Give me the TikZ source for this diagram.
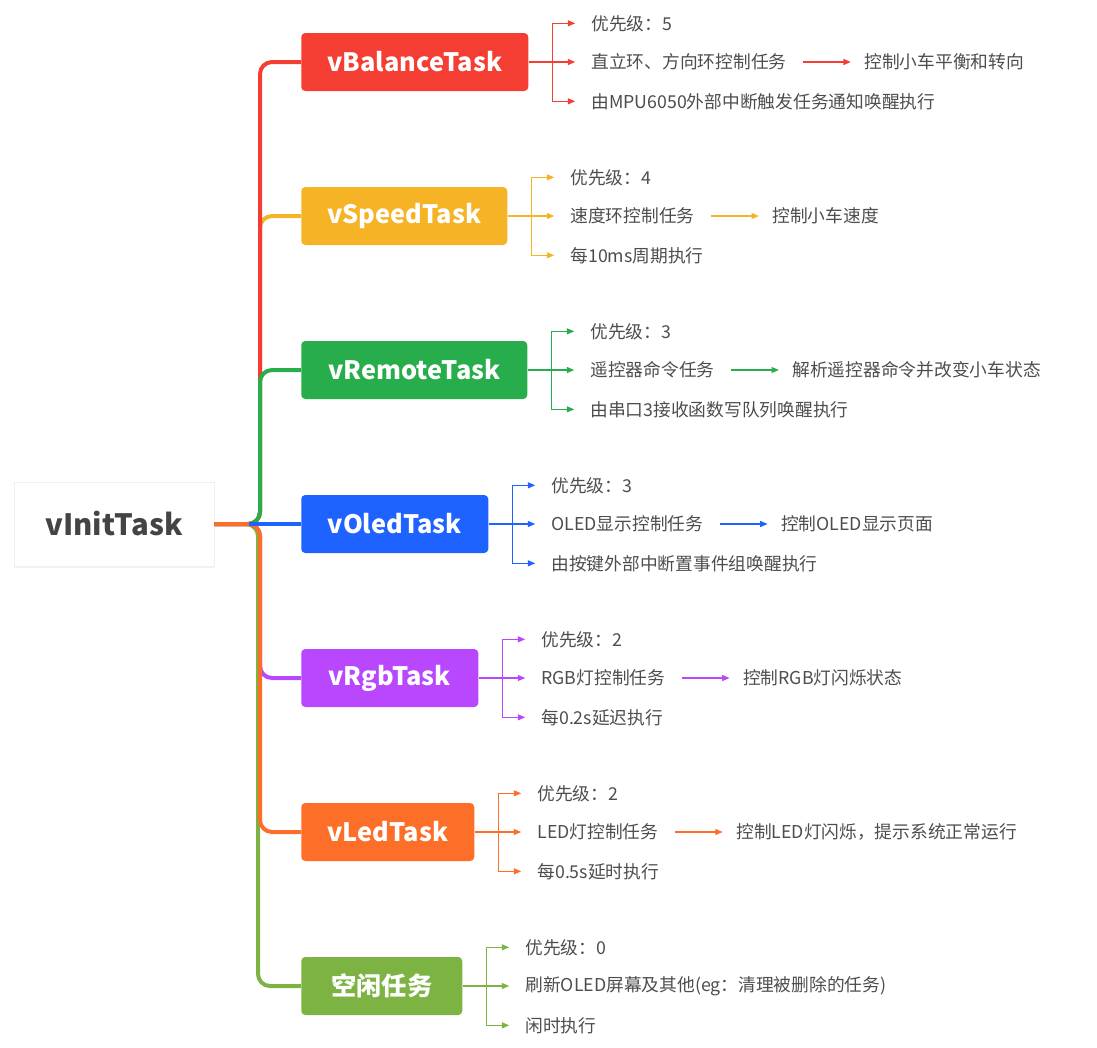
\documentclass[tikz,border=0pt]{standalone}
\usepackage{fontspec}
\setmainfont{Noto Sans CJK SC}
\usetikzlibrary{arrows.meta,positioning,shadows}
\definecolor{cRed}{HTML}{F53E33}
\definecolor{cYel}{HTML}{F6B326}
\definecolor{cGrn}{HTML}{27AD4B}
\definecolor{cBlu}{HTML}{1E63FF}
\definecolor{cPur}{HTML}{B847FD}
\definecolor{cOrg}{HTML}{FD6F28}
\definecolor{cLime}{HTML}{7CB342}
\definecolor{txt}{HTML}{4D4D4D}
\definecolor{roottxt}{HTML}{444444}
\newcommand\mytask[8]{%
  \node[taskbox, fill=#2, minimum width=#8] (#1) at (301,#3) {#4};
  \coordinate (#1s) at ([xshift=18pt]#1.east);
  \node[item] (#1a) at ([xshift=35pt,yshift=29pt]#1.east) {#5};
  \node[item] (#1b) at ([xshift=35pt]#1.east) {#6};
  \node[item] (#1c) at ([xshift=35pt,yshift=-29.5pt]#1.east) {#7};
  \draw[sub,#2] (#1.east) -- (#1s);
  \draw[sub,arr,#2] (#1s) |- (#1a.west);
  \draw[sub,arr,#2] (#1s) -- (#1b.west);
  \draw[sub,arr,#2] (#1s) |- (#1c.west);
}
\begin{document}
\begin{tikzpicture}[x=0.75pt,y=-0.75pt,
  taskbox/.style={rounded corners=3pt, minimum height=43.5pt, inner xsep=6pt, anchor=west, text=white, font=\fontsize{19}{22}\selectfont\bfseries},
  item/.style={anchor=west, inner xsep=12pt, inner ysep=2pt, text=txt, font=\fontsize{13.3}{16}\selectfont},
  res/.style={anchor=west, inner xsep=10pt, inner ysep=2pt, text=txt, font=\fontsize{13.3}{16}\selectfont},
  branch/.style={line width=3pt, rounded corners=9pt},
  sub/.style={line width=0.8pt},
  arr/.style={-{Triangle[length=5.5pt,width=4.5pt]}}]
\useasboundingbox (0,0) rectangle (1097,1047);

\node[fill=white, draw=black!6, drop shadow={opacity=0.10, shadow xshift=0pt, shadow yshift=-1.5pt},
      minimum width=150pt, minimum height=63pt, text=roottxt,
      font=\fontsize{22}{26}\selectfont\bfseries] (root) at (114,524) {vInitTask};

\mytask{bal}{cRed}{62}{vBalanceTask}{优先级：5}{直立环、方向环控制任务}{由MPU6050外部中断触发任务通知唤醒执行}{170.25pt}
\mytask{spd}{cYel}{216}{vSpeedTask}{优先级：4}{速度环控制任务}{每10ms周期执行}{154.5pt}
\mytask{rem}{cGrn}{370}{vRemoteTask}{优先级：3}{遥控器命令任务}{由串口3接收函数写队列唤醒执行}{169.5pt}
\mytask{old}{cBlu}{524}{vOledTask}{优先级：3}{OLED显示控制任务}{由按键外部中断置事件组唤醒执行}{140.25pt}
\mytask{rgb}{cPur}{678}{vRgbTask}{优先级：2}{RGB灯控制任务}{每0.2s延迟执行}{132.75pt}
\mytask{led}{cOrg}{832}{vLedTask}{优先级：2}{LED灯控制任务}{每0.5s延时执行}{129.75pt}
\mytask{idl}{cLime}{986}{空闲任务}{优先级：0}{刷新OLED屏幕及其他(eg：清理被删除的任务)}{闲时执行}{120.75pt}

\node[res] (balr) at ([xshift=36pt]balb.east) {控制小车平衡和转向};
\node[res] (spdr) at ([xshift=36pt]spdb.east) {控制小车速度};
\node[res] (remr) at ([xshift=36pt]remb.east) {解析遥控器命令并改变小车状态};
\node[res] (oldr) at ([xshift=36pt]oldb.east) {控制OLED显示页面};
\node[res] (rgbr) at ([xshift=36pt]rgbb.east) {控制RGB灯闪烁状态};
\node[res] (ledr) at ([xshift=36pt]ledb.east) {控制LED灯闪烁，提示系统正常运行};
\draw[sub,arr,cRed] (balb.east) -- (balr.west);
\draw[sub,arr,cYel] (spdb.east) -- (spdr.west);
\draw[sub,arr,cGrn] (remb.east) -- (remr.west);
\draw[sub,arr,cBlu] (oldb.east) -- (oldr.west);
\draw[sub,arr,cPur] (rgbb.east) -- (rgbr.west);
\draw[sub,arr,cOrg] (ledb.east) -- (ledr.west);

\coordinate (j) at (260,524);
\draw[branch,cYel] (root.east) -- (j) -- (260,216) -- (spd.west);
\draw[branch,cRed] (root.east) -- (j) -- (260,62) -- (bal.west);
\draw[branch,cGrn] (root.east) -- (j) -- (260,370) -- (rem.west);
\draw[branch,cPur] (root.east) -- (j) -- (260,678) -- (rgb.west);
\draw[branch,cLime] (root.east) -- (258,524) -- (258,986) -- (idl.west);
\draw[branch,cOrg] (root.east) -- (j) -- (260,832) -- (led.west);
\draw[line width=2.5pt,cBlu] ([xshift=-8pt]j) -- (old.west);
\end{tikzpicture}
\end{document}
